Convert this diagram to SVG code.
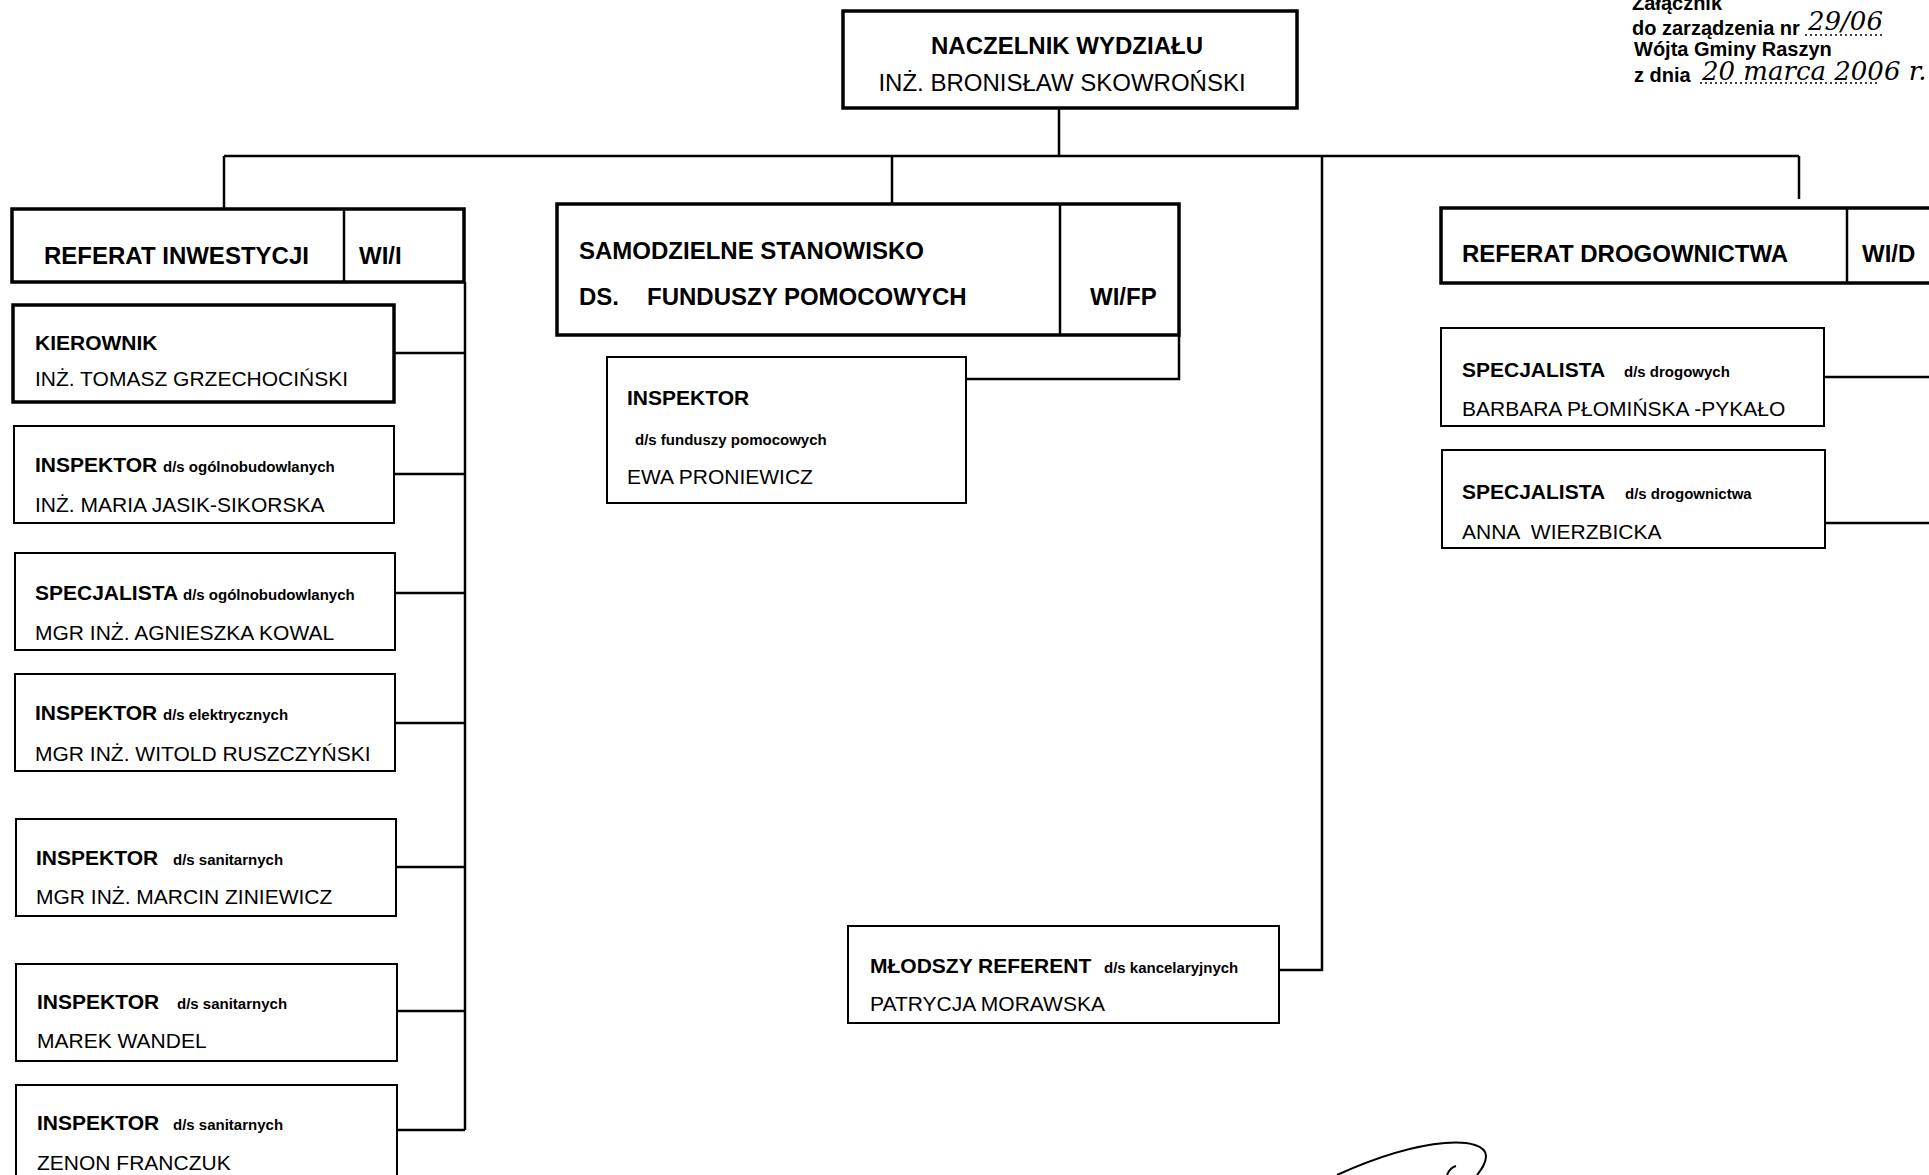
<svg xmlns="http://www.w3.org/2000/svg" width="1929" height="1175" viewBox="0 0 1929 1175">
<style>
.box{fill:#fff;stroke:#000;stroke-width:2}
.thick{stroke-width:3.5}
.conn{fill:none;stroke:#000;stroke-width:2.5}
text{font-family:"Liberation Sans",Arial,sans-serif;fill:#000}
.h24{font-size:24px;font-weight:bold}
.r24{font-size:24px}
.b21{font-size:21px;font-weight:bold}
.r21{font-size:21px}
.s15{font-size:15px;font-weight:bold}
.note{font-size:20px;font-weight:bold}
.hand{font-family:"DejaVu Serif","Liberation Serif",serif;font-style:italic;font-size:26px}
.dots{fill:none;stroke:#000;stroke-width:1.5;stroke-dasharray:2 3}
</style>
<rect width="1929" height="1175" fill="#fff"/>

<g id="connectors">
  <path class="conn" d="M1059,108 V156"/>
  <path class="conn" d="M224,156 H1799"/>
  <path class="conn" d="M224,156 V209"/>
  <path class="conn" d="M892,156 V204"/>
  <path class="conn" d="M1322,156 V970 H1279"/>
  <path class="conn" d="M1799,156 V199"/>
  <path class="conn" d="M465,282 V1130"/>
  <path class="conn" d="M394,353 H465"/>
  <path class="conn" d="M394,474 H465"/>
  <path class="conn" d="M395,593 H465"/>
  <path class="conn" d="M395,723 H465"/>
  <path class="conn" d="M396,867 H465"/>
  <path class="conn" d="M396,1011 H465"/>
  <path class="conn" d="M396,1130 H465"/>
  <path class="conn" d="M1179,335 V379 H966"/>
  <path class="conn" d="M1824,377 H1929"/>
  <path class="conn" d="M1824,523 H1929"/>
</g>

<g id="naczelnik">
  <rect class="box thick" x="843" y="11" width="454" height="97"/>
  <text class="h24" x="1067" y="54" text-anchor="middle">NACZELNIK WYDZIAŁU</text>
  <text class="r24" x="1062" y="91" text-anchor="middle">INŻ. BRONISŁAW SKOWROŃSKI</text>
</g>

<g id="referat-inwestycji">
  <rect class="box thick" x="12" y="209" width="452" height="73"/>
  <line x1="344" y1="209" x2="344" y2="282" stroke="#000" stroke-width="2.5"/>
  <text class="h24" x="44" y="264">REFERAT INWESTYCJI</text>
  <text class="h24" x="359" y="264">WI/I</text>
</g>

<g id="kierownik">
  <rect class="box thick" x="13" y="305" width="381" height="97"/>
  <text class="b21" x="35" y="350">KIEROWNIK</text>
  <text class="r21" x="35" y="386">INŻ. TOMASZ GRZECHOCIŃSKI</text>
</g>

<g id="inspektor-ogolnobud">
  <rect class="box" x="14" y="426" width="380" height="97"/>
  <text x="35" y="472"><tspan class="b21">INSPEKTOR</tspan><tspan class="s15" x="163">d/s ogólnobudowlanych</tspan></text>
  <text class="r21" x="35" y="512">INŻ. MARIA JASIK-SIKORSKA</text>
</g>

<g id="specjalista-ogolnobud">
  <rect class="box" x="15" y="553" width="380" height="97"/>
  <text x="35" y="600"><tspan class="b21">SPECJALISTA</tspan><tspan class="s15" x="183">d/s ogólnobudowlanych</tspan></text>
  <text class="r21" x="35" y="640">MGR INŻ. AGNIESZKA KOWAL</text>
</g>

<g id="inspektor-elektr">
  <rect class="box" x="15" y="674" width="380" height="97"/>
  <text x="35" y="720"><tspan class="b21">INSPEKTOR</tspan><tspan class="s15" x="163">d/s elektrycznych</tspan></text>
  <text class="r21" x="35" y="761">MGR INŻ. WITOLD RUSZCZYŃSKI</text>
</g>

<g id="inspektor-sanit-1">
  <rect class="box" x="16" y="819" width="380" height="97"/>
  <text x="36" y="865"><tspan class="b21">INSPEKTOR</tspan><tspan class="s15" x="173">d/s sanitarnych</tspan></text>
  <text class="r21" x="36" y="904">MGR INŻ. MARCIN ZINIEWICZ</text>
</g>

<g id="inspektor-sanit-2">
  <rect class="box" x="16" y="964" width="381" height="97"/>
  <text x="37" y="1009"><tspan class="b21">INSPEKTOR</tspan><tspan class="s15" x="177">d/s sanitarnych</tspan></text>
  <text class="r21" x="37" y="1048">MAREK WANDEL</text>
</g>

<g id="inspektor-sanit-3">
  <rect class="box" x="16" y="1085" width="381" height="110"/>
  <text x="37" y="1130"><tspan class="b21">INSPEKTOR</tspan><tspan class="s15" x="173">d/s sanitarnych</tspan></text>
  <text class="r21" x="37" y="1170">ZENON FRANCZUK</text>
</g>

<g id="samodzielne-stanowisko">
  <rect class="box thick" x="557" y="204" width="622" height="131"/>
  <line x1="1060" y1="204" x2="1060" y2="335" stroke="#000" stroke-width="2.5"/>
  <text class="h24" x="579" y="259">SAMODZIELNE STANOWISKO</text>
  <text class="h24" x="579" y="305">DS.<tspan x="647">FUNDUSZY POMOCOWYCH</tspan></text>
  <text class="h24" x="1090" y="305">WI/FP</text>
</g>

<g id="inspektor-fundusze">
  <rect class="box" x="607" y="357" width="359" height="146"/>
  <text class="b21" x="627" y="405">INSPEKTOR</text>
  <text class="s15" x="635" y="445">d/s funduszy pomocowych</text>
  <text class="r21" x="627" y="484">EWA PRONIEWICZ</text>
</g>

<g id="mlodszy-referent">
  <rect class="box" x="848" y="926" width="431" height="97"/>
  <text x="870" y="973"><tspan class="b21">MŁODSZY REFERENT</tspan><tspan class="s15" x="1104">d/s kancelaryjnych</tspan></text>
  <text class="r21" x="870" y="1011">PATRYCJA MORAWSKA</text>
</g>

<g id="referat-drogownictwa">
  <rect class="box thick" x="1441" y="208" width="500" height="75"/>
  <line x1="1847" y1="208" x2="1847" y2="283" stroke="#000" stroke-width="2.5"/>
  <text class="h24" x="1462" y="262">REFERAT DROGOWNICTWA</text>
  <text class="h24" x="1862" y="262">WI/D</text>
</g>

<g id="specjalista-drogowych">
  <rect class="box" x="1441" y="328" width="383" height="98"/>
  <text x="1462" y="377"><tspan class="b21">SPECJALISTA</tspan><tspan class="s15" x="1624">d/s drogowych</tspan></text>
  <text class="r21" x="1462" y="416">BARBARA PŁOMIŃSKA -PYKAŁO</text>
</g>

<g id="specjalista-drogownictwa">
  <rect class="box" x="1442" y="450" width="383" height="98"/>
  <text x="1462" y="499"><tspan class="b21">SPECJALISTA</tspan><tspan class="s15" x="1625">d/s drogownictwa</tspan></text>
  <text class="r21" x="1462" y="539" xml:space="preserve">ANNA  WIERZBICKA</text>
</g>

<g id="zalacznik">
  <text class="note" x="1632" y="10">Załącznik</text>
  <text class="note" x="1632" y="35">do zarządzenia nr</text>
  <path class="dots" d="M1805,35 H1885"/>
  <text class="hand" x="1808" y="30" font-size="28">29/06</text>
  <text class="note" x="1634" y="56">Wójta Gminy Raszyn</text>
  <text class="note" x="1634" y="82">z dnia</text>
  <path class="dots" d="M1700,83 H1880"/>
  <text class="hand" x="1702" y="80">20 marca 2006 r.</text>
</g>

<g id="signature">
  <path d="M1337,1175 C1370,1160 1410,1146 1445,1143 C1470,1141 1486,1146 1486,1156 C1486,1164 1481,1170 1477,1175" fill="none" stroke="#000" stroke-width="2"/>
  <path d="M1447,1175 C1449,1170 1452,1167 1456,1166" fill="none" stroke="#000" stroke-width="2"/>
</g>
</svg>
